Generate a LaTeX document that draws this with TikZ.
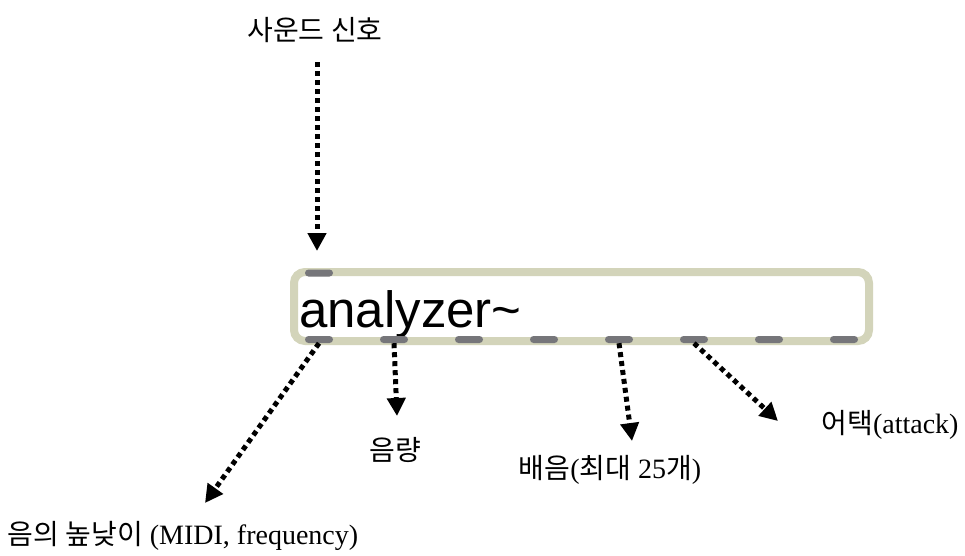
\documentclass[tikz,border=0pt]{standalone}
\usepackage{fontspec}
\setmainfont{Liberation Serif}
\newfontfamily\kr{Noto Sans CJK KR}
\newfontfamily\hv{Liberation Sans}
\usetikzlibrary{arrows.meta}
\definecolor{frame}{HTML}{D3D4BA}
\definecolor{port}{HTML}{76767A}
\tikzset{
  objbox/.style={draw=frame, line width=8pt, rounded corners=11pt,
    minimum width=575pt, minimum height=69pt, inner sep=0pt},
  port/.style={fill=port, rounded corners=3.5pt, minimum width=28pt,
    minimum height=7pt, inner sep=0pt},
  flow/.style={line width=5pt, dash pattern=on 5pt off 4pt,
    -{Triangle[width=18pt,length=18pt]}},
  lbl/.style={inner sep=0pt, font=\fontsize{28}{32}\selectfont}
}
\begin{document}
\begin{tikzpicture}[x=1pt, y=-1pt]
\useasboundingbox (0,0) rectangle (965,555);
\fill[white] (0,0) rectangle (965,555);

% the analyzer~ object box
\node[objbox] (box) at (581.5,306.5) {};
\node[anchor=base west, inner sep=0pt, font=\hv\fontsize{51}{60}\selectfont] (name) at (299,327) {analyzer\char`\~};

% inlet and outlets
\node[port] (in1) at (319,273) {};
\foreach \k in {1,...,8}
  \node[port] (out\k) at ({319+75*(\k-1)},339.5) {};

% labels
\node[lbl] (sig) at (315,30) {\kr 사운드 신호};
\node[lbl] (pitch) at (183,536) {{\kr 음의 높낮이} (MIDI, frequency)};
\node[lbl] (vol) at (395,450) {\kr 음량};
\node[lbl] (harm) at (610,470) {{\kr 배음}({\kr 최대} 25{\kr 개})};
\node[lbl] (atk) at (890,425) {{\kr 어택}(attack)};

% arrow end points
\coordinate (sigstart) at (317,62);
\coordinate (sigtip) at (317,251);
\coordinate (pitchtip) at (205,503);
\coordinate (voltip) at (397,416);
\coordinate (harmtip) at (632,441);
\coordinate (atktip) at (778,421);

% signal flow
\draw[flow] (sigstart) -- (sigtip);
\draw[flow] (out1.south) -- (pitchtip);
\draw[flow] (out2.south) -- (voltip);
\draw[flow] (out5.south) -- (harmtip);
\draw[flow] (out6.south) -- (atktip);
\end{tikzpicture}
\end{document}
